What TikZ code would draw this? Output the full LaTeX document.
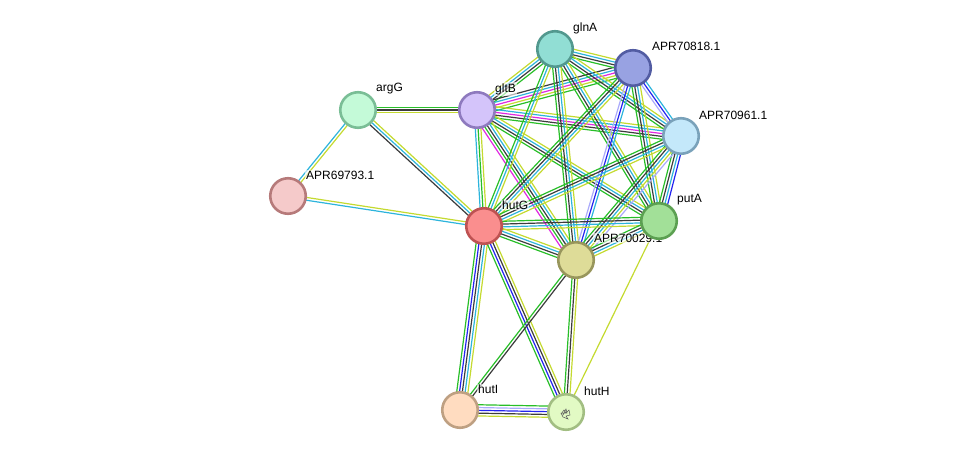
\documentclass[tikz,border=0pt]{standalone}
\usepackage{fontspec}
\setmainfont{Liberation Sans}
\usetikzlibrary{calc,backgrounds}
\definecolor{tm}{RGB}{196,218,48}
\definecolor{co}{RGB}{60,60,60}
\definecolor{db}{RGB}{45,180,220}
\definecolor{nb}{RGB}{40,190,40}
\definecolor{ex}{RGB}{225,40,225}
\definecolor{cb}{RGB}{35,35,240}
\definecolor{hm}{RGB}{170,170,250}
\tikzset{
  prot/.style={circle, minimum size=35.5pt, inner sep=0pt, line width=2.6pt},
  lab/.style={anchor=west, inner sep=1pt, font=\fontsize{12}{14}\selectfont, text=black, fill=white, fill opacity=0.6, text opacity=1},
}
\newcommand\bund[3]{%
  \foreach \cc [count=\n] in {#3} {\xdef\nn{\n}}%
  \foreach \cc [count=\i] in {#3} {%
    \pgfmathsetmacro\off{(\i-(\nn+1)/2)*2.8}%
    \draw[color=\cc, line width=1.2pt] ($(#1.center)!\off pt!90:(#2.center)$) -- ($(#2.center)!\off pt!-90:(#1.center)$);
  }}
\begin{document}
\begin{tikzpicture}[x=1pt,y=-1pt]
\useasboundingbox (0,0) rectangle (976,458);
% nodes
\node[prot, fill={rgb,255:red,145;green,222;blue,212}, draw={rgb,255:red,82;green,152;blue,142}] (glnA) at (555,49) {};
\node[prot, fill={rgb,255:red,152;green,162;blue,226}, draw={rgb,255:red,82;green,92;blue,162}] (r818) at (633,68) {};
\node[prot, fill={rgb,255:red,196;green,232;blue,250}, draw={rgb,255:red,122;green,162;blue,186}] (r961) at (681,136) {};
\node[prot, fill={rgb,255:red,212;green,196;blue,250}, draw={rgb,255:red,142;green,122;blue,190}] (gltB) at (477,110) {};
\node[prot, fill={rgb,255:red,196;green,250;blue,216}, draw={rgb,255:red,122;green,190;blue,150}] (argG) at (358,110) {};
\node[prot, fill={rgb,255:red,245;green,202;blue,202}, draw={rgb,255:red,182;green,122;blue,122}] (r793) at (288,196) {};
\node[prot, fill={rgb,255:red,250;green,142;blue,142}, draw={rgb,255:red,190;green,82;blue,82}] (hutG) at (484,226) {};
\node[prot, fill={rgb,255:red,222;green,220;blue,152}, draw={rgb,255:red,152;green,150;blue,92}] (r029) at (576,260) {};
\node[lab] (r029l) at (593,238) {APR70029.1};
\node[prot, fill={rgb,255:red,162;green,224;blue,152}, draw={rgb,255:red,92;green,160;blue,82}] (putA) at (659,221) {};
\node[prot, fill={rgb,255:red,255;green,220;blue,192}, draw={rgb,255:red,190;green,160;blue,130}] (hutI) at (460,410) {};
\node[prot, fill={rgb,255:red,226;green,250;blue,196}, draw={rgb,255:red,162;green,190;blue,130}] (hutH) at (566,412) {};
% labels
\node[lab] (glnAl) at (572,28) {glnA};
\node[lab] (r818l) at (651,46) {APR70818.1};
\node[lab] (r961l) at (698,115) {APR70961.1};
\node[lab] (gltBl) at (494,89) {gltB};
\node[lab] (argGl) at (375,89) {argG};
\node[lab] (r793l) at (305,175) {APR69793.1};
\node[lab] (hutGl) at (501,205) {hutG};
\node[lab] (putAl) at (676,200) {putA};
\node[lab] (hutIl) at (477,389) {hutI};
\node[lab] (hutHl) at (583,391) {hutH};
% small structure in hutH
\draw[gray!70!black, line width=0.5pt] (hutH.center) ++(-5,2) -- ++(3,-4) -- ++(2,3) -- ++(3,-3) -- ++(1,5) -- ++(-4,1) -- ++(2,3) -- ++(-5,-2) -- ++(-2,-4) -- ++(6,0) -- ++(-1,-4) -- ++(-3,6);
\begin{pgfonlayer}{background}
\bund{argG}{gltB}{tm,co,nb}
\bund{argG}{hutG}{co,db,tm}
\bund{argG}{r793}{db,tm}
\bund{r793}{hutG}{db,tm}
\bund{gltB}{glnA}{nb,co,db,tm}
\bund{gltB}{r818}{nb,tm,ex,db,co}
\bund{gltB}{r961}{nb,co,ex,db,tm}
\bund{gltB}{putA}{nb,co,db,tm}
\bund{gltB}{r029}{ex,nb,co,db,tm}
\bund{gltB}{hutG}{db,nb,tm}
\bund{glnA}{r818}{nb,co,db,tm}
\bund{glnA}{r961}{nb,co,db,tm}
\bund{glnA}{putA}{nb,co,db,tm}
\bund{glnA}{r029}{nb,co,db,tm}
\bund{glnA}{hutG}{nb,db,tm}
\bund{r818}{r961}{hm,cb,db}
\bund{r818}{putA}{nb,co,db,tm}
\bund{r818}{r029}{hm,cb,db}
\bund{r818}{hutG}{nb,co,db,tm}
\bund{r961}{putA}{nb,co,db,cb}
\bund{r961}{r029}{nb,co,db,tm,hm}
\bund{r961}{hutG}{nb,co,db,tm}
\bund{putA}{hutG}{nb,co,db,tm}
\bund{putA}{r029}{nb,co,db,tm}
\bund{putA}{hutH}{tm}
\bund{hutG}{r029}{nb,co,db,tm}
\bund{hutG}{hutI}{nb,cb,co,db,tm}
\bund{hutG}{hutH}{nb,cb,co,tm}
\bund{r029}{hutI}{nb,co}
\bund{r029}{hutH}{nb,co,tm}
\bund{hutI}{hutH}{tm,co,cb,hm,nb}
\end{pgfonlayer}
\end{tikzpicture}
\end{document}
